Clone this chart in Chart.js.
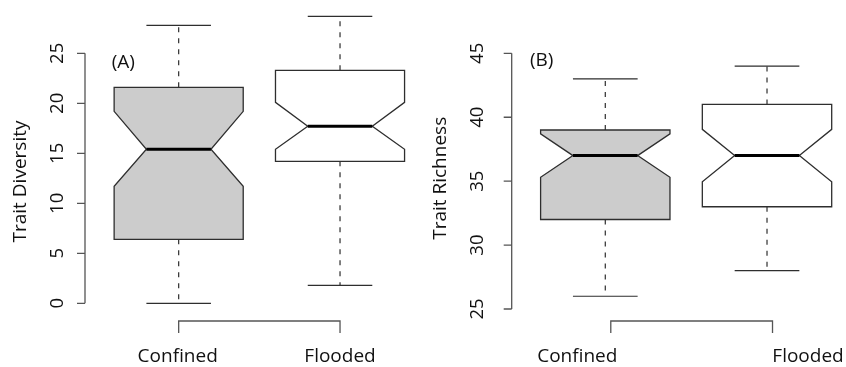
<!DOCTYPE html>
<html>
<head>
<meta charset="utf-8">
<script src="https://cdn.jsdelivr.net/npm/chart.js@4.4.1/dist/chart.umd.min.js"></script>
<style>
  html, body { margin: 0; padding: 0; background: #ffffff; }
  #wrap { position: relative; width: 846px; height: 367px; overflow: hidden; }
  #wrap canvas { position: absolute; left: 0; top: 0; }
</style>
</head>
<body>
<div id="wrap">
  <canvas id="panelA" width="846" height="367"></canvas>
  <canvas id="panelB" width="846" height="367"></canvas>
</div>
<script>
// Groups on the x axis
const categories = ['Confined', 'Flooded'];

// (A) Trait Diversity: whisker ends, hinges, median and notch limits per group
const diversityLower   = [0.0, 1.8];
const diversityQ1      = [6.4, 14.2];
const diversityMedian  = [15.4, 17.7];
const diversityQ3      = [21.6, 23.3];
const diversityUpper   = [27.8, 28.7];
const diversityNotchLo = [11.7, 15.4];
const diversityNotchHi = [19.2, 20.1];
const diversityTicks   = [0, 5, 10, 15, 20, 25];

// (B) Trait Richness
const richnessLower   = [26, 28];
const richnessQ1      = [32, 33];
const richnessMedian  = [37, 37];
const richnessQ3      = [39, 41];
const richnessUpper   = [43, 44];
const richnessNotchLo = [35.3, 34.95];
const richnessNotchHi = [38.7, 39.05];
const richnessTicks   = [25, 30, 35, 40, 45];

const boxFills = ['#cccccc', '#ffffff'];
const FONT = '"Open Sans", "Noto Sans", sans-serif';
const INK = '#111111';

function buildPoints(lo, q1, med, q3, hi, nLo, nHi) {
  return categories.map((c, i) => ({
    x: i + 1, y: med[i], lo: lo[i], q1: q1[i], q3: q3[i], hi: hi[i], nLo: nLo[i], nHi: nHi[i]
  }));
}

// Draws notched box-and-whisker glyphs plus R-style axes using the chart's scales
const notchedBoxPlugin = {
  id: 'notchedBox',
  afterDatasetsDraw(chart) {
    const o = chart.options.plugins.notchedBox;
    const ctx = chart.ctx;
    const xs = chart.scales.x, ys = chart.scales.y;
    const unit = xs.getPixelForValue(2) - xs.getPixelForValue(1);
    const py = v => ys.getPixelForValue(v);
    const pts = chart.data.datasets[0].data;

    ctx.save();
    pts.forEach((d, i) => {
      const cx = xs.getPixelForValue(d.x);
      const hw = 0.4 * unit;   // half box width
      const ww = 0.2 * unit;   // half waist width at the median
      const sw = 0.2 * unit;   // half staple width

      // dashed whiskers
      ctx.strokeStyle = '#2e2e2e';
      ctx.lineWidth = 1.2;
      ctx.setLineDash([5, 6]);
      ctx.beginPath();
      ctx.moveTo(cx, py(d.q3)); ctx.lineTo(cx, py(d.hi));
      ctx.moveTo(cx, py(d.q1)); ctx.lineTo(cx, py(d.lo));
      ctx.stroke();
      ctx.setLineDash([]);

      // staples
      ctx.beginPath();
      ctx.moveTo(cx - sw, py(d.hi)); ctx.lineTo(cx + sw, py(d.hi));
      ctx.moveTo(cx - sw, py(d.lo)); ctx.lineTo(cx + sw, py(d.lo));
      ctx.stroke();

      // notched box
      ctx.beginPath();
      ctx.moveTo(cx - hw, py(d.q1));
      ctx.lineTo(cx - hw, py(d.nLo));
      ctx.lineTo(cx - ww, py(d.y));
      ctx.lineTo(cx - hw, py(d.nHi));
      ctx.lineTo(cx - hw, py(d.q3));
      ctx.lineTo(cx + hw, py(d.q3));
      ctx.lineTo(cx + hw, py(d.nHi));
      ctx.lineTo(cx + ww, py(d.y));
      ctx.lineTo(cx + hw, py(d.nLo));
      ctx.lineTo(cx + hw, py(d.q1));
      ctx.closePath();
      ctx.fillStyle = o.fills[i];
      ctx.fill();
      ctx.strokeStyle = '#2e2e2e';
      ctx.lineWidth = 1.3;
      ctx.stroke();

      // median
      ctx.beginPath();
      ctx.moveTo(cx - ww, py(d.y)); ctx.lineTo(cx + ww, py(d.y));
      ctx.strokeStyle = '#000000';
      ctx.lineWidth = 3;
      ctx.stroke();
    });

    // y axis: line spans first to last tick
    const t = o.ticks;
    ctx.strokeStyle = '#555555';
    ctx.lineWidth = 1.3;
    ctx.beginPath();
    ctx.moveTo(o.axisX, py(t[0])); ctx.lineTo(o.axisX, py(t[t.length - 1]));
    t.forEach(v => { ctx.moveTo(o.axisX - o.tickLen, py(v)); ctx.lineTo(o.axisX, py(v)); });
    ctx.stroke();

    ctx.fillStyle = INK;
    ctx.font = o.tickFont + 'px ' + FONT;
    ctx.textAlign = 'center';
    ctx.textBaseline = 'alphabetic';
    t.forEach(v => {
      ctx.save();
      ctx.translate(o.tickLabelX, py(v));
      ctx.rotate(-Math.PI / 2);
      ctx.fillText(String(v), 0, 0);
      ctx.restore();
    });

    // y title
    ctx.font = o.titleFont + 'px ' + FONT;
    ctx.save();
    ctx.translate(o.titleX, o.titleY);
    ctx.rotate(-Math.PI / 2);
    ctx.fillText(o.title, 0, 0);
    ctx.restore();

    // panel tag
    ctx.font = o.tagFont + 'px ' + FONT;
    ctx.fillText(o.tag, o.tagX, o.tagY);

    // x axis bracket between the two groups, with group labels
    const x1 = xs.getPixelForValue(1) + o.bracketShift;
    const x2 = xs.getPixelForValue(2) + o.bracketShift;
    ctx.strokeStyle = '#555555';
    ctx.lineWidth = 1.3;
    ctx.beginPath();
    ctx.moveTo(x1, o.bracketY + 12);
    ctx.lineTo(x1, o.bracketY);
    ctx.lineTo(x2, o.bracketY);
    ctx.lineTo(x2, o.bracketY + 12);
    ctx.stroke();

    ctx.font = o.labelFont + 'px ' + FONT;
    categories.forEach((c, i) => {
      ctx.fillText(c, xs.getPixelForValue(i + 1) + o.labelShift[i], o.labelY);
    });
    ctx.restore();
  }
};

function makePanel(id, points, cfg) {
  return new Chart(document.getElementById(id), {
    type: 'scatter',
    data: { datasets: [{ data: points, pointRadius: 0, pointHoverRadius: 0, showLine: false }] },
    options: {
      responsive: false,
      animation: false,
      devicePixelRatio: 1,
      events: [],
      layout: { padding: cfg.padding },
      scales: {
        x: { type: 'linear', min: cfg.xMin, max: cfg.xMax, display: false },
        y: { type: 'linear', min: cfg.yMin, max: cfg.yMax, display: false }
      },
      plugins: {
        legend: { display: false },
        tooltip: { enabled: false },
        notchedBox: cfg.style
      }
    },
    plugins: [notchedBoxPlugin]
  });
}

makePanel('panelA',
  buildPoints(diversityLower, diversityQ1, diversityMedian, diversityQ3, diversityUpper, diversityNotchLo, diversityNotchHi),
  {
    xMin: 0.5, xMax: 2.5, yMin: -1.5, yMax: 30,
    padding: { left: 98, right: 425.3, top: 3.3, bottom: 48.7 },
    style: {
      fills: boxFills, ticks: diversityTicks,
      axisX: 85, tickLen: 8, tickLabelX: 63, tickFont: 18.5,
      title: 'Trait Diversity', titleX: 26, titleY: 181.5, titleFont: 19,
      tag: '(A)', tagX: 123.3, tagY: 67.5, tagFont: 19,
      bracketY: 321, bracketShift: 0, labelShift: [-1, 0], labelY: 362, labelFont: 19
    }
  });

makePanel('panelB',
  buildPoints(richnessLower, richnessQ1, richnessMedian, richnessQ3, richnessUpper, richnessNotchLo, richnessNotchHi),
  {
    xMin: 0.6, xMax: 2.4, yMin: 24, yMax: 49,
    padding: { left: 540.6, right: 14.3, top: 2.16, bottom: 45.2 },
    style: {
      fills: boxFills, ticks: richnessTicks,
      axisX: 511.7, tickLen: 8, tickLabelX: 483, tickFont: 18.5,
      title: 'Trait Richness', titleX: 445.5, titleY: 178.3, titleFont: 19,
      tag: '(B)', tagX: 541.7, tagY: 66, tagFont: 19,
      bracketY: 321, bracketShift: 5.5, labelShift: [-28, 41], labelY: 362, labelFont: 19
    }
  });
</script>
</body>
</html>
